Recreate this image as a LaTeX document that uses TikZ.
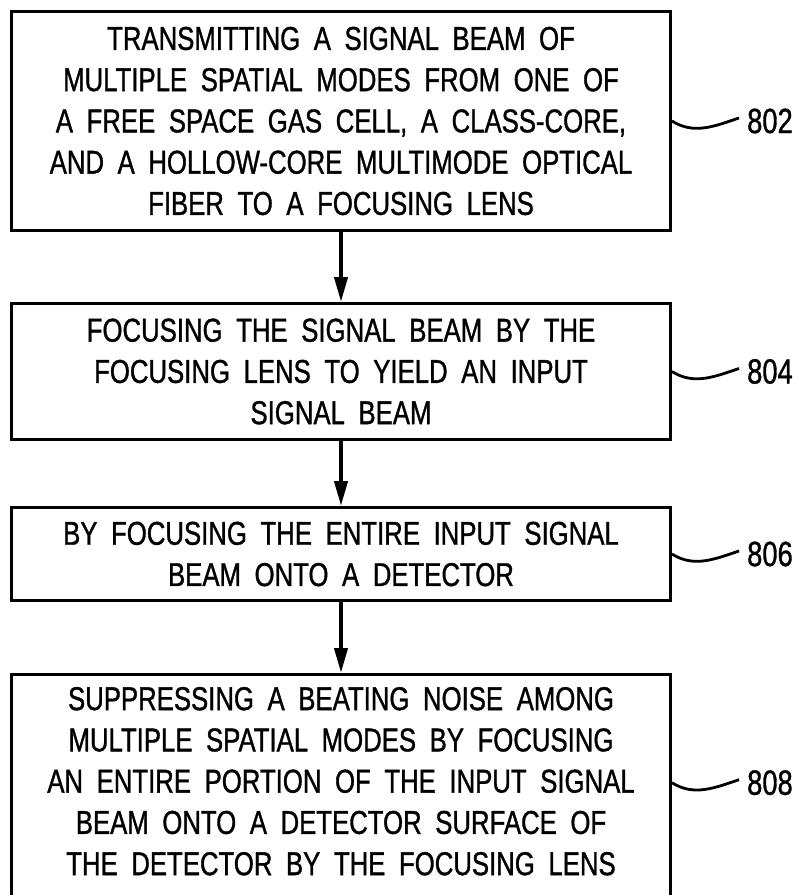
\documentclass[tikz,border=0pt]{standalone}
\usepackage{fontspec}
\setmainfont[FakeStretch=0.78,WordSpace=1.9,FakeBold=1]{Liberation Sans}
\usepackage{tikz}
\usetikzlibrary{arrows.meta, positioning}
\tikzset{
    stepbox/.style={
        rectangle,
        draw=black,
        line width=3.4pt,
        minimum width=658.6pt,
        align=center,
        inner sep=0pt,
        font=\fontsize{33}{41.25}\selectfont
    },
    reflabel/.style={
        inner sep=1pt,
        font=\fontsize{35}{36}\selectfont
    },
    flow/.style={
        draw=black,
        line width=4pt,
        -{Triangle[length=25pt,width=13pt]}
    },
    leader/.style={
        draw=black,
        line width=2.8pt
    }
}
\begin{document}
\begin{tikzpicture}[x=1pt,y=-1pt]
\useasboundingbox (0,0) rectangle (803,895);

\node[stepbox, minimum height=218.6pt] (s802) at (341,121) {TRANSMITTING A SIGNAL BEAM OF\\MULTIPLE SPATIAL MODES FROM ONE OF\\A FREE SPACE GAS CELL, A CLASS-CORE,\\AND A HOLLOW-CORE MULTIMODE OPTICAL\\FIBER TO A FOCUSING LENS};
\node[stepbox, minimum height=135.6pt, below=70pt of s802] (s804) {FOCUSING THE SIGNAL BEAM BY THE\\FOCUSING LENS TO YIELD AN INPUT\\SIGNAL BEAM};
\node[stepbox, minimum height=92.6pt, below=65pt of s804] (s806) {BY FOCUSING THE ENTIRE INPUT SIGNAL\\BEAM ONTO A DETECTOR};
% box runs off the bottom of the sheet
\node[stepbox, minimum height=236pt, below=71pt of s806] (s808) {SUPPRESSING A BEATING NOISE AMONG\\MULTIPLE SPATIAL MODES BY FOCUSING\\AN ENTIRE PORTION OF THE INPUT SIGNAL\\BEAM ONTO A DETECTOR SURFACE OF\\THE DETECTOR BY THE FOCUSING LENS\\[-18pt]\mbox{}};

\draw[flow] (s802) -- (s804);
\draw[flow] (s804) -- (s806);
\draw[flow] (s806) -- (s808);

% reference numerals
\node[reflabel, right=74pt of s802] (n802) {802};
\node[reflabel, right=74pt of s804] (n804) {804};
\node[reflabel, right=74pt of s806] (n806) {806};
\node[reflabel, right=74pt of s808, yshift=10pt] (n808) {808};

\draw[leader] (s802.east) .. controls +(22pt,-14pt) and +(-24pt,-8pt) .. ([xshift=-7pt,yshift=3pt]n802.west);
\draw[leader] (s804.east) .. controls +(22pt,-14pt) and +(-24pt,-8pt) .. ([xshift=-7pt,yshift=3pt]n804.west);
\draw[leader] (s806.east) .. controls +(22pt,-14pt) and +(-24pt,-8pt) .. ([xshift=-7pt,yshift=3pt]n806.west);
\draw[leader] ([yshift=10pt]s808.east) .. controls +(22pt,-14pt) and +(-24pt,-8pt) .. ([xshift=-7pt,yshift=3pt]n808.west);

\end{tikzpicture}
\end{document}
